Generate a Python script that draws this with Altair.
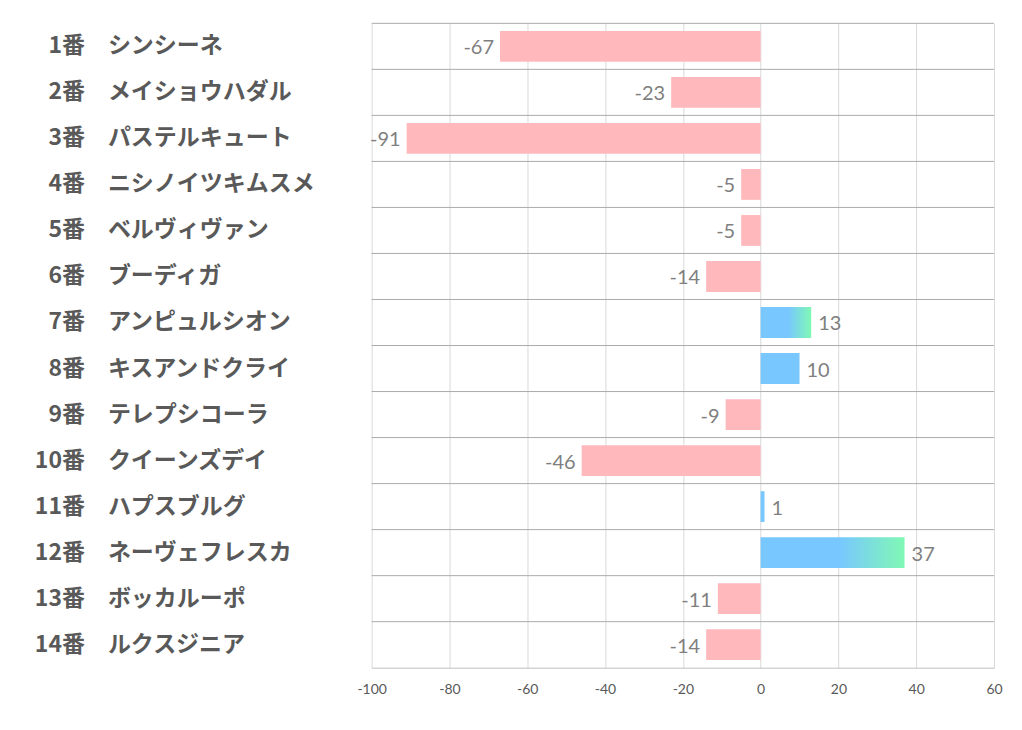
import altair as alt
import pandas as pd

numbers = ["1番", "2番", "3番", "4番", "5番", "6番", "7番", "8番", "9番", "10番", "11番", "12番", "13番", "14番"]
names = ["シンシーネ", "メイショウハダル", "パステルキュート", "ニシノイツキムスメ", "ベルヴィヴァン",
         "ブーディガ", "アンピュルシオン", "キスアンドクライ", "テレプシコーラ", "クイーンズデイ",
         "ハプスブルグ", "ネーヴェフレスカ", "ボッカルーポ", "ルクスジニア"]
values = [-67, -23, -91, -5, -5, -14, 13, 10, -9, -46, 1, 37, -11, -14]
gradient_flag = [False, False, False, False, False, False, True, False, False, False, False, True, False, False]
x_ticks = [-100, -80, -60, -40, -20, 0, 20, 40, 60]

df = pd.DataFrame({"num": numbers, "name": names, "value": values, "grad": gradient_flag})
df["zero"] = 0
df["label"] = [str(v) for v in values]

PINK = "#FFB9BC"
BLUE = "#78C8FF"
GREEN = "#80F8B4"

y_enc = alt.Y("name:N", sort=names, axis=None,
              scale=alt.Scale(paddingInner=0, paddingOuter=0))
x_scale = alt.Scale(domain=[-100, 60], nice=False, zero=False)

base = alt.Chart(df)

rows = base.mark_rule(color="#ABABAB", strokeWidth=1).encode(
    y=alt.Y("name:N", sort=names, bandPosition=0, axis=None,
            scale=alt.Scale(paddingInner=0, paddingOuter=0)),
    x=alt.value(0), x2=alt.value(623)
)

bars = base.transform_filter("!datum.grad").mark_bar(height=alt.RelativeBandSize(0.67)).encode(
    y=y_enc,
    x=alt.X("value:Q", scale=x_scale,
            axis=alt.Axis(values=x_ticks, grid=True, gridColor="#D9D9D9", tickSize=0,
                          domainColor="#BFBFBF", labelColor="#595959", labelFontSize=14,
                          labelFont="Lato", labelPadding=15, title=None, labelFlush=False,
                          labelExpr="'' + datum.value")),
    x2="zero:Q",
    color=alt.condition("datum.value < 0", alt.value(PINK), alt.value(BLUE)),
)

grad = alt.Gradient(
    gradient="linear",
    stops=[alt.GradientStop(color=BLUE, offset=0),
           alt.GradientStop(color=BLUE, offset=0.55),
           alt.GradientStop(color=GREEN, offset=1)],
    x1=0, x2=1, y1=0, y2=0,
)
gbars = base.transform_filter("datum.grad").mark_bar(
    height=alt.RelativeBandSize(0.67), color=grad
).encode(y=y_enc, x=alt.X("value:Q", scale=x_scale), x2="zero:Q")

neg_labels = base.transform_filter("datum.value < 0").mark_text(
    align="right", baseline="middle", dx=-6, dy=2, fontSize=20, font="Lato", color="#7F7F7F"
).encode(y=y_enc, x=alt.X("value:Q", scale=x_scale), text="label:N")

pos_labels = base.transform_filter("datum.value >= 0").mark_text(
    align="left", baseline="middle", dx=7, dy=2, fontSize=20, font="Lato", color="#7F7F7F"
).encode(y=y_enc, x=alt.X("value:Q", scale=x_scale), text="label:N")

num_text = base.mark_text(
    align="right", baseline="middle", fontSize=23, fontWeight="bold",
    font="Noto Sans CJK JP", color="#595959"
).encode(y=y_enc, x=alt.value(-287), text="num:N")

name_text = base.mark_text(
    align="left", baseline="middle", fontSize=23, fontWeight="bold",
    font="Noto Sans CJK JP", color="#595959"
).encode(y=y_enc, x=alt.value(-264), text="name:N")

chart = alt.layer(bars, gbars, rows, neg_labels, pos_labels, num_text, name_text).properties(
    width=623, height=645,
    autosize=alt.AutoSizeParams(type="none"),
    padding={"left": 364, "top": 15, "right": 20, "bottom": 50},
).configure_view(stroke=None)

chart.save("out.html", embed_options={"renderer": "svg", "actions": False})
